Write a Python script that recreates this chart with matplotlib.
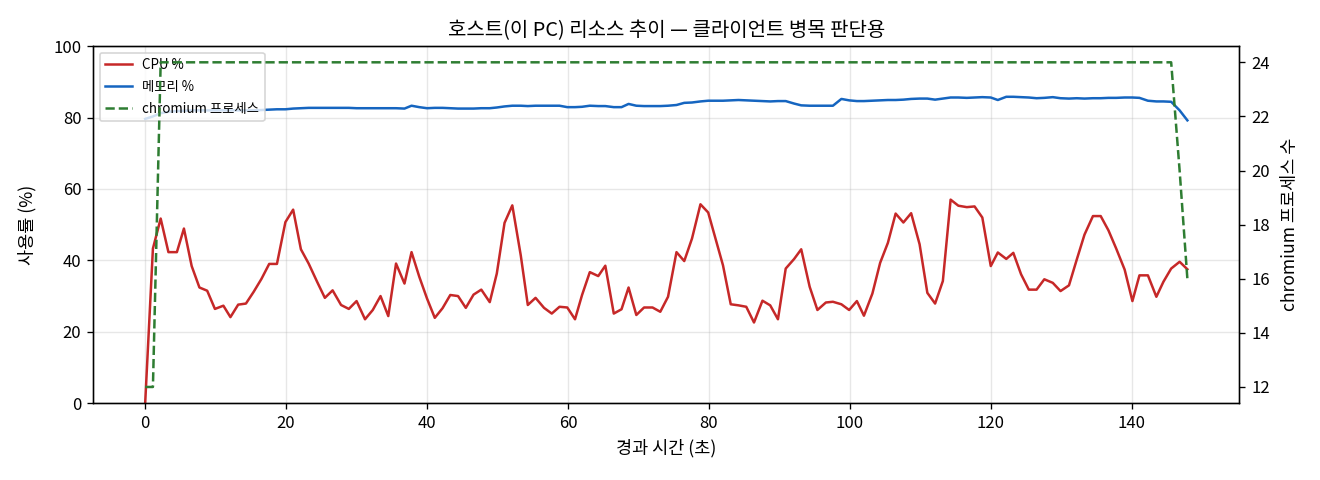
import matplotlib
matplotlib.use("Agg")
import matplotlib.pyplot as plt

plt.rcParams["font.family"] = ["Noto Sans CJK KR", "DejaVu Sans"]
plt.rcParams["font.size"] = 10
plt.rcParams["axes.unicode_minus"] = False

# data

t_sec = [
    0.0, 1.1, 2.2, 3.3, 4.5, 5.5, 6.6, 7.7, 8.8, 9.9,
    11.1, 12.1, 13.2, 14.3, 15.4, 16.5, 17.6, 18.7, 19.9, 21.0,
    22.1, 23.2, 24.4, 25.5, 26.6, 27.8, 28.9, 30.0, 31.2, 32.3,
    33.4, 34.5, 35.6, 36.8, 37.8, 38.9, 40.0, 41.1, 42.2, 43.3,
    44.4, 45.5, 46.6, 47.7, 48.9, 49.9, 51.0, 52.1, 53.3, 54.3,
    55.4, 56.6, 57.7, 58.8, 59.9, 61.0, 62.0, 63.1, 64.3, 65.3,
    66.5, 67.6, 68.6, 69.7, 70.8, 72.0, 73.1, 74.2, 75.4, 76.5,
    77.6, 78.8, 79.9, 81.0, 82.0, 83.1, 84.2, 85.3, 86.4, 87.6,
    88.7, 89.8, 90.9, 92.1, 93.1, 94.3, 95.4, 96.6, 97.6, 98.8,
    99.9, 101.0, 102.0, 103.2, 104.3, 105.4, 106.5, 107.6, 108.7, 109.9,
    111.0, 112.1, 113.2, 114.3, 115.4, 116.6, 117.7, 118.8, 120.0, 121.0,
    122.2, 123.2, 124.3, 125.4, 126.5, 127.6, 128.8, 129.9, 131.1, 132.2,
    133.3, 134.5, 135.6, 136.7, 137.8, 139.0, 140.1, 141.1, 142.3, 143.5,
    144.5, 145.6, 146.8, 147.9,
]

cpu_pct = [
    0.0, 43.3, 51.7, 42.3, 42.3, 48.9, 38.4, 32.4, 31.5, 26.4,
    27.3, 24.1, 27.6, 27.9, 31.2, 34.8, 39.0, 39.0, 50.7, 54.2,
    43.1, 39.1, 34.0, 29.5, 31.6, 27.5, 26.4, 28.6, 23.5, 26.1,
    30.0, 24.4, 39.1, 33.5, 42.3, 35.4, 29.3, 23.9, 26.6, 30.3,
    30.0, 26.7, 30.4, 31.8, 28.3, 36.3, 50.5, 55.4, 41.4, 27.5,
    29.5, 26.7, 25.1, 27.0, 26.8, 23.5, 30.3, 36.7, 35.6, 38.5,
    25.1, 26.3, 32.4, 24.7, 26.8, 26.8, 25.6, 29.8, 42.3, 39.8,
    46.1, 55.7, 53.4, 45.6, 38.6, 27.7, 27.4, 27.0, 22.6, 28.7,
    27.4, 23.5, 37.7, 40.4, 43.1, 32.6, 26.1, 28.2, 28.4, 27.7,
    26.1, 28.6, 24.5, 30.7, 39.3, 44.9, 53.1, 50.6, 53.2, 44.5,
    30.9, 27.9, 34.2, 57.0, 55.3, 54.9, 55.1, 52.0, 38.4, 42.2,
    40.4, 42.1, 36.1, 31.8, 31.8, 34.7, 33.7, 31.4, 33.0, 40.2,
    47.2, 52.4, 52.4, 48.4, 43.3, 37.4, 28.6, 35.8, 35.8, 29.8,
    34.0, 37.7, 39.6, 37.5,
]

mem_pct = [
    79.6, 80.3, 81.2, 81.6, 81.8, 81.9, 82.0, 82.0, 82.0, 82.0,
    82.0, 82.0, 82.0, 82.0, 82.0, 82.1, 82.2, 82.3, 82.3, 82.5,
    82.6, 82.7, 82.7, 82.7, 82.7, 82.7, 82.7, 82.6, 82.6, 82.6,
    82.6, 82.6, 82.6, 82.5, 83.3, 82.9, 82.6, 82.7, 82.7, 82.6,
    82.5, 82.5, 82.5, 82.6, 82.6, 82.8, 83.1, 83.3, 83.3, 83.2,
    83.3, 83.3, 83.3, 83.3, 82.9, 82.9, 83.0, 83.3, 83.2, 83.2,
    82.9, 82.9, 83.8, 83.3, 83.2, 83.2, 83.2, 83.3, 83.5, 84.1,
    84.2, 84.5, 84.7, 84.7, 84.7, 84.8, 84.9, 84.8, 84.7, 84.6,
    84.5, 84.6, 84.6, 83.9, 83.4, 83.3, 83.3, 83.3, 83.3, 85.2,
    84.8, 84.6, 84.6, 84.7, 84.8, 84.9, 84.9, 85.0, 85.2, 85.3,
    85.3, 85.0, 85.3, 85.6, 85.6, 85.5, 85.6, 85.7, 85.6, 84.9,
    85.8, 85.8, 85.7, 85.6, 85.4, 85.5, 85.7, 85.4, 85.3, 85.4,
    85.3, 85.4, 85.4, 85.5, 85.5, 85.6, 85.6, 85.5, 84.7, 84.5,
    84.5, 84.4, 82.0, 79.2,
]

chromium_procs = [12, 12] + [24] * 130 + [20, 16]


# plot

fig, ax = plt.subplots(figsize=(11, 4), dpi=120)
fig.subplots_adjust(left=0.0705, right=0.939, top=0.904, bottom=0.16)

l1, = ax.plot(t_sec, cpu_pct, color="#c62828", lw=1.5, label="CPU %")
l2, = ax.plot(t_sec, mem_pct, color="#1565c0", lw=1.5, label="메모리 %")
ax.set_ylim(0, 100)
ax.set_xlabel("경과 시간 (초)", fontsize=10.5)
ax.set_ylabel("사용률 (%)", fontsize=10.5, labelpad=10)
ax.set_title("호스트(이 PC) 리소스 추이 — 클라이언트 병목 판단용", fontsize=12)
ax.grid(alpha=0.3)

ax2 = ax.twinx()
l3, = ax2.plot(t_sec, chromium_procs, color="#2e7d32", lw=1.5, ls="--",
               label="chromium 프로세스")
ax2.set_ylabel("chromium 프로세스 수", fontsize=10.5, labelpad=7)

ax.legend(handles=[l1, l2, l3], loc="upper left", fontsize=8, labelspacing=0.6)

fig.savefig("out.png")
